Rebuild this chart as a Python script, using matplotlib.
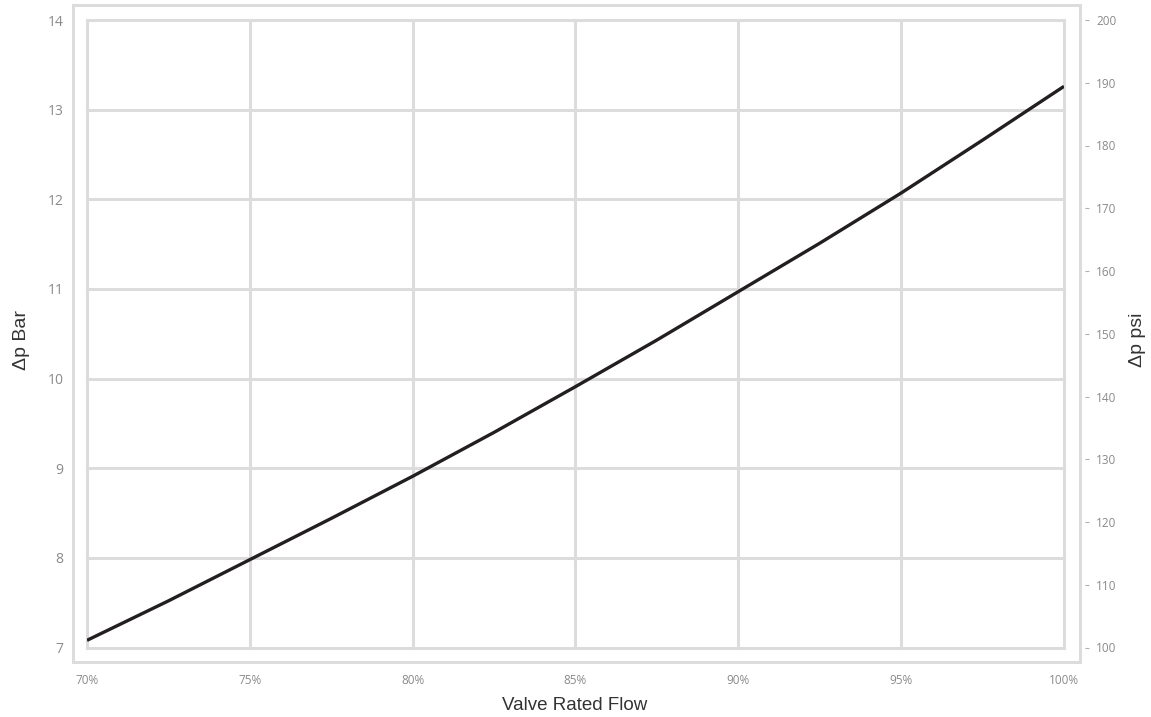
import matplotlib.pyplot as plt
from matplotlib.patches import Rectangle
from matplotlib.ticker import FuncFormatter

# values
flow_pct = [70, 72.5, 75, 77.5, 80, 82.5, 85, 87.5, 90, 92.5, 95, 97.5, 100]
dp_bar = [7.08, 7.52, 7.98, 8.44, 8.91, 9.40, 9.91, 10.43, 10.97, 11.51, 12.07, 12.66, 13.26]

x_ticks = [70, 75, 80, 85, 90, 95, 100]
bar_ticks = [7, 8, 9, 10, 11, 12, 13, 14]
psi_ticks = [100, 110, 120, 130, 140, 150, 160, 170, 180, 190, 200]

GRID = "#dcdcdc"
TICK_TXT = "#8a8a8a"
LABEL = "#333333"

plt.rcParams["font.family"] = ["Open Sans", "DejaVu Sans"]

fig = plt.figure(figsize=(11.51, 7.17), dpi=100, facecolor="white")
ax = fig.add_axes([87 / 1151, 1 - 647.5 / 717, (1064 - 87) / 1151, (647.5 - 20) / 717])

ax.plot(flow_pct, dp_bar, color="#231f20", linewidth=2.4, zorder=3, solid_capstyle="butt")

ax.set_xlim(70, 100)
ax.set_ylim(7, 14)
ax.set_xticks(x_ticks)
ax.set_yticks(bar_ticks)
ax.xaxis.set_major_formatter(FuncFormatter(lambda v, p: f"{v:.0f}%"))
ax.grid(True, color=GRID, linewidth=2.2)
ax.set_axisbelow(True)
for line in ax.get_xgridlines() + ax.get_ygridlines():
    line.set_clip_on(False)
for s in ax.spines.values():
    s.set_visible(False)
ax.tick_params(axis="y", length=0, pad=17, labelsize=10, labelcolor=TICK_TXT)
ax.tick_params(axis="x", length=0, pad=19, labelsize=8.5, labelcolor=TICK_TXT)

ax2 = ax.twinx()
ax2.set_ylim(100, 200)
ax2.set_yticks(psi_ticks)
for s in ax2.spines.values():
    s.set_visible(False)
ax2.spines["right"].set_position(("outward", 15))
ax2.tick_params(axis="y", length=3, width=0.8, color="#b0b0b0", pad=5,
                labelsize=8.5, labelcolor=TICK_TXT)

# outer light frame
fig.patches.append(Rectangle((73 / 1151, 1 - 662 / 717), (1080 - 73) / 1151, (662 - 5) / 717,
                             transform=fig.transFigure, fill=False, edgecolor=GRID,
                             linewidth=2.2, zorder=0))

lab_font = ["Liberation Sans", "DejaVu Sans"]
fig.text(21 / 1151, 1 - 340 / 717, "Δp Bar", rotation=90, ha="center", va="center",
         fontsize=14, color=LABEL, family=lab_font)
fig.text(1137 / 1151, 1 - 340 / 717, "Δp psi", rotation=90, ha="center", va="center",
         fontsize=14, color=LABEL, family=lab_font)
fig.text(575 / 1151, 1 - 705 / 717, "Valve Rated Flow", ha="center", va="center",
         fontsize=13.5, color=LABEL, family=lab_font)

fig.savefig("out.png", dpi=100, facecolor="white")
